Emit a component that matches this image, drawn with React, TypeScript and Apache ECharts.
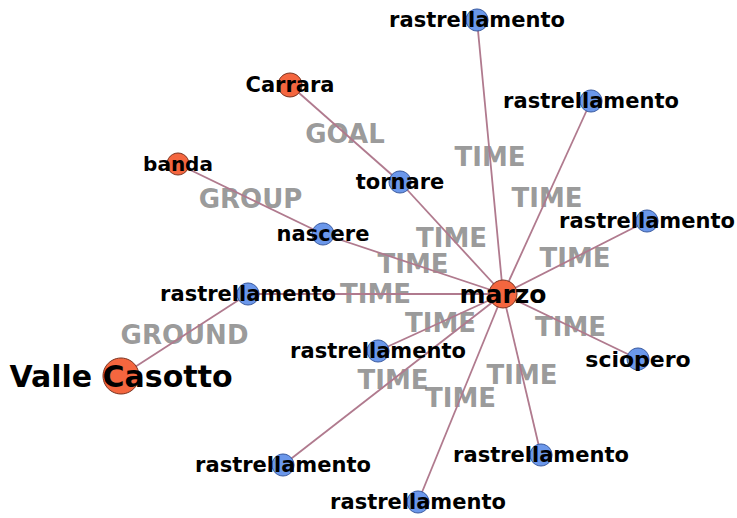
import React, { useEffect, useRef } from "react";
import * as echarts from "echarts";

// Nodes
const nodeIds = ["marzo", "valle", "carrara", "banda", "tornare", "nascere", "r_left", "r_top", "r_ne", "r_e", "sciopero", "r_se", "r_s", "r_sw", "r_mid"];
const nodeLabels = ["marzo", "Valle Casotto", "Carrara", "banda", "tornare", "nascere", "rastrellamento", "rastrellamento", "rastrellamento", "rastrellamento", "sciopero", "rastrellamento", "rastrellamento", "rastrellamento", "rastrellamento"];
const nodeX = [503, 121, 290, 178, 400, 323, 248, 477, 591, 647, 638, 541, 418, 283, 378];
const nodeY = [294, 376, 85, 164, 182, 234, 294, 20, 101, 221, 359, 455, 502, 465, 351];
const nodeKind = ["place", "place", "place", "place", "word", "word", "word", "word", "word", "word", "word", "word", "word", "word", "word"];
const nodeSize = [28, 36, 24, 22, 22, 22, 22, 22, 22, 22, 22, 22, 22, 22, 22];
const labelSize = [25, 30, 21, 20, 21, 21, 21, 21, 21, 21, 22, 21, 21, 21, 21];

// Links
const linkSource = ["carrara", "banda", "r_left", "marzo", "marzo", "marzo", "marzo", "marzo", "marzo", "marzo", "marzo", "marzo", "marzo", "marzo"];
const linkTarget = ["tornare", "nascere", "valle", "tornare", "nascere", "r_left", "r_top", "r_ne", "r_e", "sciopero", "r_se", "r_s", "r_sw", "r_mid"];
const linkLabel = ["GOAL", "GROUP", "GROUND", "TIME", "TIME", "TIME", "TIME", "TIME", "TIME", "TIME", "TIME", "TIME", "TIME", "TIME"];

const FONT = "DejaVu Sans";

export default function App() {
  const ref = useRef<HTMLDivElement>(null);
  useEffect(() => {
    if (!ref.current) return;
    const chart = echarts.init(ref.current, undefined, { renderer: "svg" });
    const idx = (id: string) => nodeIds.indexOf(id);
    const links: any[] = [];
    const mids: any[] = [];
    linkSource.forEach((s, i) => {
      const t = linkTarget[i];
      links.push({ source: s, target: t });
      const a = idx(s), b = idx(t);
      mids.push({ name: linkLabel[i], value: [(nodeX[a] + nodeX[b]) / 2, (nodeY[a] + nodeY[b]) / 2] });
    });
    const nodes = nodeIds.map((id, i) => {
      const place = nodeKind[i] === "place";
      return {
        id,
        name: id,
        value: [nodeX[i], nodeY[i]],
        symbolSize: nodeSize[i],
        itemStyle: {
          color: place ? "#f4663f" : "#6b97ea",
          borderColor: place ? "#7a3320" : "#37589e",
          borderWidth: 1,
        },
        label: {
          show: true,
          position: "inside",
          formatter: nodeLabels[i],
          color: "#000",
          fontFamily: FONT,
          fontWeight: "bold",
          fontSize: labelSize[i],
        },
      };
    });
    chart.setOption({
      animation: false,
      backgroundColor: "#ffffff",
      grid: { left: 0, right: 0, top: 0, bottom: 0 },
      xAxis: { type: "value", min: 0, max: 737, show: false },
      yAxis: { type: "value", min: 0, max: 518, inverse: true, show: false },
      series: [
        {
          type: "scatter",
          z: 1,
          symbolSize: 1,
          itemStyle: { color: "rgba(0,0,0,0)" },
          data: mids,
          label: {
            show: true,
            position: "inside",
            formatter: "{b}",
            color: "#808080",
            fontFamily: FONT,
            fontWeight: "bold",
            fontSize: 26,
          },
          silent: true,
        },
        {
          type: "graph",
          z: 2,
          coordinateSystem: "cartesian2d",
          layout: "none",
          roam: false,
          data: nodes,
          links,
          lineStyle: { color: "#b07a8e", width: 1.8, opacity: 1, curveness: 0 },
          edgeSymbol: ["none", "none"],
          silent: true,
        },
      ],
    });
    return () => chart.dispose();
  }, []);
  return (
    <div
      ref={ref}
      style={{ position: "absolute", left: 0, top: 0, width: 737, height: 518, background: "#fff" }}
    />
  );
}
